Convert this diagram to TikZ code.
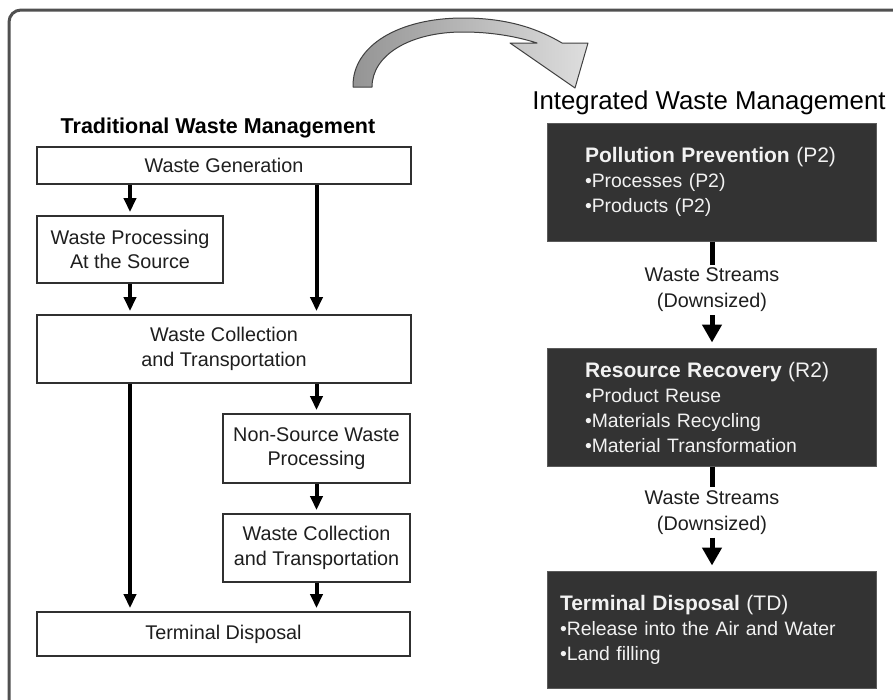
\documentclass[tikz,border=0pt]{standalone}
\usepackage{fontspec}
\setmainfont{Liberation Sans}
\usetikzlibrary{arrows.meta,calc}
\definecolor{framegray}{HTML}{505050}
\definecolor{boxline}{HTML}{303030}
\definecolor{darkfill}{HTML}{333333}
\definecolor{darkline}{HTML}{5A5A5A}
\definecolor{lighttext}{HTML}{F2F2F2}
\definecolor{bodytext}{HTML}{1E1E1E}
\tikzset{
  frame/.style={draw=framegray, line width=3pt, rounded corners=12pt},
  lightbox/.style={draw=boxline, line width=1.8pt, fill=white, text=bodytext,
    align=center, inner sep=0pt, font=\fontsize{19.8}{24.5}\selectfont},
  darkbox/.style={draw=darkline, line width=1pt, fill=darkfill, text=lighttext,
    align=left, inner sep=0pt, minimum width=329pt,
    font=\fontsize{19.4}{25}\selectfont},
  heading/.style={inner sep=0pt, text=black},
  streamlabel/.style={align=center, inner sep=3pt, text=bodytext,
    font=\fontsize{19.8}{26}\selectfont},
  flowL/.style={line width=4pt, -{Triangle[width=12pt,length=14pt]}, shorten >=3pt},
  flowR/.style={line width=5pt, -{Triangle[width=19pt,length=18pt]}, shorten >=5pt},
  stem/.style={line width=5pt},
  bigarrow/.style={left color=black!42, right color=black!13,
    draw=black!75, line width=1pt, line join=round},
}
\newcommand{\boxtitle}[2]{{\fontsize{21}{26}\selectfont\textbf{#1} #2}}
\begin{document}
\begin{tikzpicture}[x=1pt, y=-1pt]
  % page and outer frame
  \fill[white] (0,0) rectangle (893,699);
  \useasboundingbox (0,0) rectangle (893,699);
  \draw[frame] (9,705) -- (9,10) -- (905,10);

  % curved arrow from the traditional to the integrated scheme
  \shadedraw[bigarrow]
    (353,87) .. controls (352,45) and (400,18) .. (463,18)
    .. controls (510,18) and (540,30) .. (562,43)
    -- (588,43) -- (575,88) -- (510,43) -- (537,43)
    .. controls (515,36) and (490,32) .. (463,32)
    .. controls (410,32) and (372,55) .. (372,87) -- cycle;

  % headings
  \node[heading, font=\fontsize{21.5}{26}\selectfont\bfseries] (tradtitle) at (218,128)
    {Traditional Waste Management};
  \node[heading, font=\fontsize{25.8}{30}\selectfont] (inttitle) at (709,103)
    {Integrated Waste Management};

  % traditional scheme
  \node[lightbox, minimum width=374pt, minimum height=37pt] (wg) at (224,165.5)
    {Waste Generation};
  \node[lightbox, minimum width=186pt, minimum height=67pt] (wp) at (130,249.5)
    {Waste Processing\\At the Source};
  \node[lightbox, minimum width=374pt, minimum height=68pt] (wct) at (224,349)
    {Waste Collection\\and Transportation};
  \node[lightbox, minimum width=187pt, minimum height=69pt] (nsw) at (316.5,448.5)
    {Non-Source Waste\\Processing};
  \node[lightbox, minimum width=187pt, minimum height=68pt] (wct2) at (316.5,548)
    {Waste Collection\\and Transportation};
  \node[lightbox, minimum width=373pt, minimum height=44pt] (tdl) at (223.5,634)
    {Terminal Disposal};

  \draw[flowL] (wg.south -| wp.north) -- (wp.north);
  \draw[flowL] (wp.south) -- (wct.north -| wp.south);
  \draw[flowL] (wg.south -| nsw.north) -- (wct.north -| nsw.north);
  \draw[flowL] (wct.south -| wp.south) -- (tdl.north -| wp.south);
  \draw[flowL] (wct.south -| nsw.north) -- (nsw.north);
  \draw[flowL] (nsw.south) -- (wct2.north);
  \draw[flowL] (wct2.south) -- (tdl.north -| wct2.south);

  % integrated scheme
  \node[darkbox, minimum height=118pt, text width=253pt] (p2) at (711.5,182)
    {\boxtitle{Pollution Prevention}{(P2)}\\
     \textbullet Processes (P2)\\
     \textbullet Products (P2)};
  \node[darkbox, minimum height=118pt, text width=253pt] (r2) at (711.5,407)
    {\boxtitle{Resource Recovery}{(R2)}\\
     \textbullet Product Reuse\\
     \textbullet Materials Recycling\\
     \textbullet Material Transformation};
  \node[darkbox, minimum height=117pt, text width=303pt] (td) at (711.5,629.5)
    {\boxtitle{Terminal Disposal}{(TD)}\\
     \textbullet Release into the Air and Water\\
     \textbullet Land filling};

  \node[streamlabel] (ws1) at (712,290) {Waste Streams\\(Downsized)};
  \node[streamlabel] (ws2) at (712,512.5) {Waste Streams\\(Downsized)};

  \draw[stem] (p2.south -| ws1.north) -- (ws1.north);
  \draw[flowR] (ws1.south) -- (r2.north -| ws1.south);
  \draw[stem] (r2.south -| ws2.north) -- (ws2.north);
  \draw[flowR] (ws2.south) -- (td.north -| ws2.south);
\end{tikzpicture}
\end{document}
